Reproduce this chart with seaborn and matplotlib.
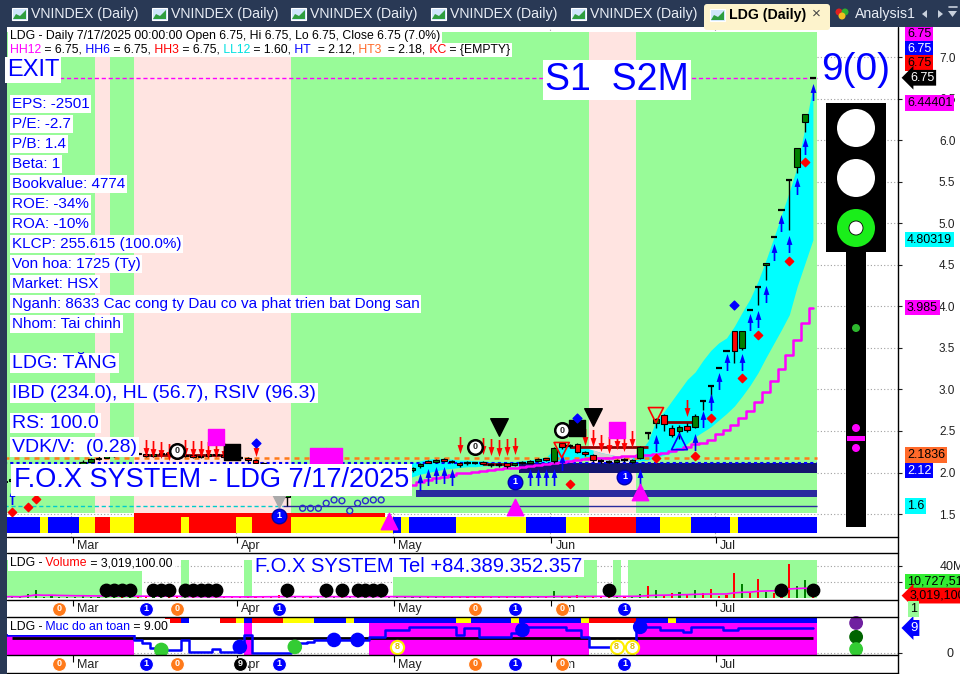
import matplotlib
matplotlib.use("Agg")
import numpy as np
import pandas as pd
import matplotlib.pyplot as plt
import matplotlib.patches as mpatches
import matplotlib.transforms as mtransforms
from matplotlib.ticker import FormatStrFormatter
import seaborn as sns

sns.set_theme(style="white")
plt.rcParams["font.family"] = ["Liberation Sans", "DejaVu Sans"]

W, H = 960, 674
BAR_PX, BAR0_PX = 7.85, 4.35   # width of one bar and x of bar 0, in pixels
LEFT, RIGHT = 7, 898

# ---------------- data ----------------
holidays = ["2025-04-07", "2025-04-30", "2025-05-01", "2025-05-02"]
dates = pd.bdate_range("2025-02-18", "2025-07-17")
dates = dates[~dates.isin(pd.to_datetime(holidays))]

opens = [
    1.88, 1.90, 1.92, 1.94, 1.95, 1.98, 2.00, 2.03, 2.05,
    2.08, 2.10, 2.13, 2.16, 2.18, 2.20, 2.22, 2.21, 2.23, 2.22, 2.20, 2.22, 2.24, 2.22, 2.20, 2.21, 2.19, 2.20, 2.22, 2.21, 2.19,
    2.17, 2.18, 2.15, 2.12, 1.96, 1.84, 1.70, 1.78, 1.80, 1.77, 1.75, 1.79, 1.81, 1.84, 1.83, 1.85, 1.87, 1.89, 1.90, 1.92,
    1.95, 1.98, 2.03, 2.08, 2.14, 2.13, 2.16, 2.13, 2.12, 2.12, 2.12, 2.13, 2.09, 2.09, 2.11, 2.09, 2.12, 2.12, 2.14, 2.17,
    2.14, 2.35, 2.32, 2.34, 2.25, 2.21, 2.14, 2.13, 2.13, 2.15, 2.13, 2.17, 2.47, 2.60, 2.69, 2.54, 2.50, 2.56, 2.55, 2.86, 3.04,
    3.26, 3.46, 3.70, 3.50, 3.96, 4.23, 4.50, 4.83, 5.16, 5.52, 5.68, 6.22, 6.75,
]
highs = [
    1.91, 1.93, 1.95, 1.97, 1.99, 2.02, 2.04, 2.07, 2.10,
    2.12, 2.15, 2.18, 2.20, 2.22, 2.25, 2.24, 2.25, 2.25, 2.24, 2.24, 2.26, 2.26, 2.24, 2.23, 2.23, 2.22, 2.24, 2.24, 2.23, 2.21,
    2.20, 2.19, 2.16, 2.13, 1.97, 1.85, 1.80, 1.82, 1.81, 1.78, 1.80, 1.83, 1.86, 1.86, 1.87, 1.89, 1.91, 1.92, 1.94, 1.97,
    1.99, 2.04, 2.07, 2.11, 2.15, 2.16, 2.17, 2.15, 2.13, 2.14, 2.13, 2.14, 2.11, 2.11, 2.12, 2.12, 2.14, 2.15, 2.18, 2.18,
    2.31, 2.36, 2.34, 2.36, 2.26, 2.22, 2.16, 2.15, 2.16, 2.17, 2.16, 2.32, 2.47, 2.65, 2.70, 2.57, 2.57, 2.60, 2.70, 2.86, 3.04,
    3.26, 3.46, 3.70, 3.70, 3.96, 4.23, 4.52, 4.83, 5.16, 5.52, 5.90, 6.31, 6.75,
]
lows = [
    1.87, 1.89, 1.91, 1.93, 1.94, 1.97, 1.99, 2.02, 2.04,
    2.06, 2.09, 2.12, 2.15, 2.17, 2.19, 2.20, 2.20, 2.21, 2.19, 2.19, 2.21, 2.21, 2.19, 2.19, 2.18, 2.18, 2.19, 2.20, 2.18, 2.16,
    2.15, 2.13, 2.10, 1.97, 1.84, 1.66, 1.60, 1.75, 1.74, 1.73, 1.74, 1.78, 1.80, 1.81, 1.82, 1.84, 1.86, 1.88, 1.89, 1.91,
    1.93, 1.97, 2.01, 2.06, 2.11, 2.12, 2.13, 2.11, 2.07, 2.09, 2.10, 2.09, 2.07, 2.07, 2.05, 2.08, 2.10, 2.11, 2.13, 2.14,
    2.12, 2.28, 2.29, 2.24, 2.20, 2.13, 2.12, 2.11, 2.12, 2.13, 2.12, 2.16, 2.40, 2.54, 2.50, 2.43, 2.40, 2.49, 2.54, 2.75, 2.90,
    3.26, 3.46, 3.32, 3.48, 3.96, 4.02, 4.32, 4.83, 5.16, 4.92, 5.60, 6.10, 6.75,
]
closes = [
    1.90, 1.92, 1.94, 1.95, 1.98, 2.00, 2.03, 2.05, 2.08,
    2.10, 2.13, 2.16, 2.18, 2.20, 2.22, 2.21, 2.23, 2.22, 2.20, 2.22, 2.24, 2.22, 2.20, 2.21, 2.19, 2.20, 2.22, 2.21, 2.19, 2.17,
    2.17, 2.15, 2.12, 1.98, 1.85, 1.72, 1.78, 1.80, 1.76, 1.75, 1.79, 1.81, 1.84, 1.83, 1.85, 1.87, 1.89, 1.90, 1.92, 1.95,
    1.98, 2.02, 2.05, 2.10, 2.12, 2.15, 2.14, 2.13, 2.09, 2.12, 2.12, 2.10, 2.09, 2.09, 2.08, 2.11, 2.12, 2.14, 2.16, 2.15,
    2.30, 2.31, 2.32, 2.25, 2.22, 2.15, 2.14, 2.13, 2.15, 2.15, 2.15, 2.31, 2.47, 2.64, 2.58, 2.45, 2.55, 2.51, 2.68, 2.86, 3.04,
    3.26, 3.46, 3.46, 3.70, 3.96, 4.23, 4.52, 4.83, 5.16, 5.52, 5.90, 6.31, 6.75,
]
volume_m = [
    1.5, 2.0, 1.2, 5.0, 9.5, 1.4, 4.0, 1.0, 1.6,
    1.2, 2.5, 1.0, 1.5, 2.0, 1.1, 1.8, 1.3, 1.0, 2.2, 1.4, 1.2, 1.6, 1.0, 1.9, 1.3, 1.1, 1.5, 1.2, 1.0, 1.4,
    1.3, 1.8, 2.4, 3.0, 2.8, 3.5, 2.1, 1.6, 1.2, 1.0, 1.4, 1.1, 1.3, 1.0, 1.2, 1.5, 1.1, 1.3, 1.6, 2.0,
    2.2, 2.5, 1.8, 2.0, 1.6, 1.9, 1.4, 1.2, 1.5, 1.3, 1.1, 1.4, 1.2, 1.0, 1.3, 1.5, 1.2, 1.6, 1.8, 1.4,
    8.3, 3.0, 2.0, 3.5, 2.5, 3.0, 1.5, 1.2, 1.6, 1.3, 2.0, 4.5, 14.6, 10.0, 4.0, 6.0, 7.0, 5.0, 10.0, 6.0, 11.0,
    3.0, 3.5, 31.0, 17.0, 6.0, 24.0, 8.0, 6.0, 7.0, 43.0, 15.0, 22.0, 3.0,
]
safety = (
    [6.5] * 17 + [4.7, 3.6, 1.8] + [1.1] * 3 + [4.7] + [0.5] * 3
    + [1.4, 0.5, 0.5, 2.3, 6.5] + [0.1] * 5 + [2.3, 3.6, 4.1] + [4.7] * 7 + [5.9] * 2
    + [8.3] * 3 + [9.2] * 6 + [6.5] + [9.0] * 2 + [5.9] * 4 + [7.2] + [9.2] * 6 + [8.3] * 2
    + [5.9] + [2.3] * 6 + [9.2] * 3 + [8.3] * 3 + [7.6] + [9.2] * 4 + [8.3] * 2 + [9.0] * 10
)

# envelope and trailing stop, bars 50..103
env_start = 50
env_upper = [2.02, 2.08, 2.12, 2.14, 2.16, 2.17, 2.17, 2.16, 2.15, 2.15,
             2.14, 2.14, 2.13, 2.13, 2.13, 2.13, 2.14, 2.15, 2.17, 2.18,
             2.28, 2.32, 2.33, 2.32, 2.30, 2.27, 2.24, 2.22, 2.20, 2.19,
             2.19, 2.25, 2.38, 2.62, 2.73, 2.86, 2.99, 3.12, 3.21, 3.35,
             3.47, 3.56, 3.62, 3.76, 3.93, 4.09, 4.30, 4.55, 4.82, 5.10,
             5.38, 5.68, 6.16, 6.64]
env_lower = [1.90, 1.92, 1.95, 1.98, 2.00, 2.02, 2.04, 2.05, 2.06, 2.07,
             2.07, 2.08, 2.08, 2.08, 2.08, 2.08, 2.09, 2.09, 2.10, 2.11,
             2.12, 2.14, 2.15, 2.16, 2.16, 2.16, 2.15, 2.15, 2.14, 2.14,
             2.14, 2.14, 2.15, 2.18, 2.21, 2.24, 2.27, 2.35, 2.43, 2.49,
             2.55, 2.63, 2.71, 2.80, 2.92, 3.05, 3.20, 3.38, 3.55, 3.72,
             3.90, 4.24, 4.52, 4.80]
stop_line = [1.80, 1.82, 1.85, 1.88, 1.91, 1.93, 1.95, 1.97, 1.99, 2.00,
             2.01, 2.02, 2.03, 2.04, 2.05, 2.06, 2.07, 2.08, 2.09, 2.10,
             2.11, 2.13, 2.14, 2.15, 2.16, 2.17, 2.18, 2.18, 2.19, 2.20,
             2.20, 2.21, 2.21, 2.22, 2.23, 2.26, 2.28, 2.31, 2.34, 2.36,
             2.39, 2.46, 2.51, 2.57, 2.66, 2.74, 2.85, 2.97, 3.10, 3.25,
             3.41, 3.59, 3.80, 3.985]

# background state per bar (run lengths)
band_runs = [("g", 12), ("p", 2), ("g", 3), ("p", 20), ("g", 38), ("p", 6), ("g", 23)]
strip_runs = [("b", 5), ("y", 1), ("b", 4), ("y", 2), ("r", 2), ("y", 3), ("r", 6), ("y", 1),
              ("r", 6), ("y", 2), ("r", 5), ("y", 13), ("b", 1), ("y", 1), ("b", 6), ("y", 9),
              ("b", 5), ("y", 3), ("r", 6), ("b", 3), ("y", 4), ("b", 5), ("y", 1), ("b", 10)]
red_top = (17, 48)
safe_strip_runs = [("n", 21), ("r", 2), ("b", 1), ("n", 4), ("r", 2), ("y", 1), ("b", 1), ("r", 4),
                   ("y", 4), ("b", 4), ("y", 1), ("b", 13), ("y", 2), ("b", 5), ("y", 1), ("b", 8),
                   ("y", 1), ("r", 6), ("b", 4), ("y", 1), ("b", 18)]
safe_zones = [(0, 16, 6.8), (31, 31, 12.95), (47, 74, 10.8), (81, 103, 10.8)]
vol_green = [(0, 17), (23, 23), (31, 31), (50, 75), (78, 78), (80, 103)]

# levels
hh12, ht3, ht, ll12 = 6.75, 2.18, 2.12, 1.60
zones = [(66, 103, 1.99, 2.11, "#15156e"), (53, 103, 1.70, 1.79, "#2a2a9e")]
box_lines = [(18, 29, 2.21), (61, 65, 2.10), (72, 82, 2.31), (84, 88, 2.61)]

# signals
buy_bars = [1, 53, 54, 55, 56, 57, 67, 68, 69, 70, 71, 81, 83, 88, 89, 90, 91, 92, 94, 95, 96, 97, 98, 99, 100, 101, 102, 103]
buy_lvls = [1.72, 1.89, 1.95, 1.97, 1.97, 1.95, 1.95, 1.95, 1.95, 1.95, 2.13, 1.95, 2.35, 2.37, 2.64, 2.85, 3.10, 3.33,
            3.33, 3.81, 3.85, 4.15, 4.65, 5.00, 4.75, 5.45, 5.93, 6.58]
sell_bars = [18, 19, 20, 21, 23, 24, 25, 26, 27, 28, 32, 58, 61, 62, 63, 64, 65, 74, 75, 76, 77, 78, 79, 80, 87]
sell_lvls = [2.30, 2.28, 2.27, 2.25, 2.30, 2.28, 2.28, 2.27, 2.28, 2.26, 2.30, 2.33, 2.32, 2.31, 2.30, 2.31, 2.32,
             2.43, 2.42, 2.36, 2.33, 2.38, 2.35, 2.40, 2.78]
black_tri = ([63, 75], [2.55, 2.67])
red_open_tri = ([71, 83], [2.27, 2.69])
blue_open_tri = ([86], [2.37])
gray_tri = ([35], [1.66])
black_sq = ([29, 73], [2.25, 2.54])
magenta_sq = ([27, 40, 42, 78], [2.43, 2.20, 2.20, 2.51])
red_dia = ([1, 3, 4, 72, 83, 88, 90, 94, 96, 100, 102], [1.52, 1.58, 1.68, 1.86, 2.17, 2.20, 2.66, 3.14, 3.65, 4.55, 5.74])
blue_dia = ([32, 73, 93], [2.35, 2.66, 4.02])
zero_rings = ([22, 60, 71], [2.26, 2.31, 2.51])
one_badges = ([35, 65, 79], [1.48, 1.89, 1.95])
magenta_up = ([49, 65, 81], [1.42, 1.58, 1.76])
trail_bars = [38, 39, 40, 41, 42, 43, 44, 45, 46, 47, 48]
trail_lvls = [1.57, 1.57, 1.57, 1.63, 1.67, 1.66, 1.54, 1.63, 1.66, 1.67, 1.67]

vol_dots = [13, 14, 15, 16, 19, 20, 21, 23, 24, 25, 26, 27, 36, 41, 43, 45, 46, 47, 48, 77, 99, 103]
safe_dots = ([20, 37, 30, 42, 45, 66, 81], [1.1, 2.2, 2.2, 4.7, 4.7, 8.3, 9.4],
             ["#33cc33", "#33cc33", "#0000ff", "#0000ff", "#0000ff", "#0000ff", "#0000ff"])
safe_eights = [50, 78, 80]
row_badges = [(7, "0", "#ff7a1a"), (18, "1", "#0000ff"), (22, "0", "#ff7a1a"), (35, "1", "#0000ff"),
              (60, "0", "#ff7a1a"), (65, "1", "#0000ff"), (71, "0", "#ff7a1a"), (79, "1", "#0000ff")]

price_tags = [("6.75", 6.75, "#ff00ff", "black", 44, False), ("6.75", 6.75, "#0000ff", "white", 29, False),
              ("6.75", 6.75, "#ff0000", "black", 15, False), ("6.75", 6.75, "black", "white", 0, True),
              ("6.44401", 6.44401, "#ff00ff", "black", 0, False), ("4.80319", 4.80319, "#00ffff", "black", 0, False),
              ("3.985", 3.985, "#ff00ff", "black", 0, False), ("2.1836", 2.1836, "#ff6a2a", "black", 2, False),
              ("2.12", 2.12, "#0000ff", "white", -8, False), ("1.6", 1.6, "#00ffff", "black", 0, False)]

info_lines = ["EPS: -2501", "P/E: -2.7", "P/B: 1.4", "Beta: 1", "Bookvalue: 4774", "ROE: -34%", "ROA: -10%",
              "KLCP: 255.615 (100.0%)", "Von hoa: 1725 (Ty)", "Market: HSX",
              "Nganh: 8633 Cac cong ty Dau co va phat trien bat Dong san", "Nhom: Tai chinh"]
signal_lines = ["LDG: TĂNG", "IBD (234.0), HL (56.7), RSIV (96.3)", "RS: 100.0", "VDK/V:  (0.28)"]

# ---------------- figure ----------------
COL = {"g": "#98fb98", "p": "#ffe4e1", "b": "#0000ff", "y": "#ffff00", "r": "#ff0000", "n": None}
MAG = "#ff00ff"
bars = np.arange(len(dates))
o, h, l, c = (np.array(v) for v in (opens, highs, lows, closes))
XLIM = ((LEFT - BAR0_PX) / BAR_PX, (RIGHT - BAR0_PX) / BAR_PX)

fig = plt.figure(figsize=(W / 100, H / 100), dpi=100)
fig.patch.set_facecolor("white")


def panel(y0, y1):
    a = fig.add_axes([LEFT / W, 1 - y1 / H, (RIGHT - LEFT) / W, (y1 - y0) / H])
    for s in a.spines.values():
        s.set_visible(False)
    a.set_xticks([])
    a.set_yticks([])
    a.set_facecolor("none")
    return a


def spans(runs):
    out, start = [], 0
    for key, n in runs:
        out.append((key, start, start + n - 1))
        start += n
    return out


ax = panel(28, 537)
axv = panel(553, 600)
axs = panel(617, 655)
labs = [panel(537, 553), panel(600, 617), panel(655, 673)]
PY0, PY1 = 1.224, 7.349


def pfrac(py):
    return (537 - py) / (537 - 28)


# price panel background
month_starts = [i for i in range(1, len(dates)) if dates[i].month != dates[i - 1].month]
for t in np.arange(1.5, 7.01, 0.5):
    ax.axhline(t, color="#a0a0a0", ls=(0, (1, 2)), lw=0.8, zorder=0.5)
for m in month_starts:
    ax.axvline(m - 0.5, color="#a0a0a0", ls=(0, (1, 2)), lw=0.8, zorder=0.5)
for key, s, e in spans(band_runs):
    ax.axvspan(s - 0.5, e + 0.5, ymin=pfrac(513), ymax=pfrac(32), color=COL[key], lw=0, zorder=1)
for key, s, e in spans(strip_runs):
    ax.axvspan(s - 0.5, e + 0.5, ymin=pfrac(533), ymax=pfrac(517), color=COL[key], lw=0, zorder=1)
ax.axvspan(red_top[0] - 0.5, red_top[1] + 0.5, ymin=pfrac(517), ymax=pfrac(513), color="#ff0000", lw=0, zorder=1)

# envelope
ex = np.arange(env_start, env_start + len(env_upper))
ax.fill_between(ex, env_lower, env_upper, color="#00ffff", lw=0, zorder=2)
pink = np.array([k == "p" for k, s, e in spans(band_runs) for _ in range(s, e + 1)])[ex]
ax.fill_between(ex, env_lower, env_upper, where=pink, color="#d0d0d0", lw=0, zorder=2.1)
for s, e, lo, hi, col in zones:
    ax.fill_between([s - 0.5, e + 0.5], lo, hi, color=col, lw=0, zorder=2.5)

# horizontal levels
ax.hlines(hh12, 0, 103.5, color=MAG, ls=(0, (3, 2)), lw=1, zorder=3)
ax.hlines(ht3, 0, 103.5, color="#ff7a1a", ls=(0, (2, 2)), lw=1.8, zorder=3)
ax.hlines(ht, 0, 103.5, color="#0000ff", ls=(0, (1.5, 1.5)), lw=1.5, zorder=3)
ax.hlines(ll12, 0, 35.5, color="#00cccc", ls=(0, (3, 2)), lw=1, zorder=3)
ax.hlines(ll12, 35.5, 103.5, color="#2a2a9e", lw=1, zorder=3)
for s, e, lv in box_lines:
    ax.hlines(lv, s, e, color="#8b0000", lw=2, zorder=3)
sns.lineplot(x=ex, y=stop_line, ax=ax, color=MAG, lw=1.8, drawstyle="steps-mid", zorder=3.2)

# candles
doji = np.isclose(o, c)
body_col = np.where(c > o, "#008000", "#ff0000")
ax.vlines(bars, l, h, color="black", lw=1, zorder=4)
nd = ~doji
ax.bar(bars[nd], np.abs(c - o)[nd], bottom=np.minimum(o, c)[nd], width=0.72, color=body_col[nd],
       edgecolor="black", lw=0.8, zorder=4.1)
ax.hlines(c[doji], bars[doji] - 0.4, bars[doji] + 0.4, color="black", lw=1.6, zorder=4.1)

# signal markers
down_arrow = [(-0.1, 1), (0.1, 1), (0.1, 0.05), (0.34, 0.05), (0, -1), (-0.34, 0.05), (-0.1, 0.05)]
up_arrow = [(x, -y) for x, y in down_arrow]
ax.scatter(sell_bars, sell_lvls, marker=down_arrow, s=150, color="#ff0000", lw=0, zorder=5)
ax.scatter(buy_bars, buy_lvls, marker=up_arrow, s=150, color="#0000ff", lw=0, zorder=5)
ax.scatter(*black_tri, marker="v", s=160, color="black", zorder=5)
ax.scatter(*red_open_tri, marker="v", s=120, facecolor="none", edgecolor="#ff0000", lw=1.2, zorder=5)
ax.scatter(*blue_open_tri, marker="^", s=130, facecolor="none", edgecolor="#0000ff", lw=1.2, zorder=5)
ax.scatter(*gray_tri, marker="v", s=90, color="#aaaaaa", zorder=5)
ax.scatter(*black_sq, marker="s", s=120, color="black", zorder=5)
ax.scatter(*magenta_sq, marker="s", s=120, color=MAG, zorder=5)
ax.scatter(*red_dia, marker="D", s=18, color="#ff0000", zorder=5)
ax.scatter(*blue_dia, marker="D", s=20, color="#0000ff", zorder=5)
ax.scatter(*magenta_up, marker="^", s=140, color=MAG, zorder=5)
ax.scatter(trail_bars, trail_lvls, marker="o", s=18, facecolor="none", edgecolor="#2a2acc", lw=1, zorder=5)
ax.scatter(*zero_rings, marker="o", s=110, facecolor="white", edgecolor="black", lw=1.8, zorder=5.5)
for b, v in zip(*zero_rings):
    ax.text(b, v, "0", ha="center", va="center", fontsize=6.5, fontweight="bold", zorder=5.6)
ax.scatter(*one_badges, marker="o", s=110, color="#0000ff", edgecolor="#0000aa", zorder=5.5)
for b, v in zip(*one_badges):
    ax.text(b, v, "1", ha="center", va="center", fontsize=6.5, fontweight="bold", color="white", zorder=5.6)

ax.set_ylim(PY0, PY1)
ax.set_yticks(np.arange(1.5, 7.01, 0.5))
ax.yaxis.set_major_formatter(FormatStrFormatter("%.1f"))
ax.tick_params(axis="y", left=False, labelleft=False, right=True, labelright=True, length=3, width=0.8,
               pad=26.5, labelsize=8.5, colors="#202020", direction="out")
ax.set_xlabel("")
ax.set_ylabel("")


def tag(axis, val, text, fc, tc, dy=0, arrow=False, size=9):
    tr = mtransforms.offset_copy(axis.get_yaxis_transform(), fig=fig, x=12 if arrow else 9, y=dy, units="dots")
    style = "larrow,pad=0.15" if arrow else "square,pad=0.15"
    axis.text(1, val, text, transform=tr, ha="left", va="center", fontsize=size, color=tc, zorder=30,
              clip_on=False, bbox=dict(boxstyle=style, fc=fc, ec="none"))


for text, val, fc, tc, dy, arrow in price_tags:
    tag(ax, val, text, fc, tc, dy, arrow)

# volume panel
for s, e in vol_green:
    axv.axvspan(s - 0.5, e + 0.5, ymin=0.043, ymax=0.851, color=COL["g"], lw=0, zorder=1)
for t in (20, 40):
    axv.axhline(t, color="#a0a0a0", ls=(0, (1, 2)), lw=0.8, zorder=0.5)
vol_col = np.where(c > o, "#008000", "#ff0000")
axv.bar(bars, volume_m, width=0.28, color=vol_col, lw=0, zorder=3)
vol_ma = pd.Series(volume_m).rolling(20, min_periods=1).mean()
sns.lineplot(x=bars, y=vol_ma.values, ax=axv, color=MAG, lw=1.2, zorder=3.5)
axv.scatter(vol_dots, [9.5] * len(vol_dots), s=80, color="black", zorder=4)
axv.set_ylim(-2.5, 56.25)
axv.set_yticks([20, 40])
axv.set_yticklabels(["20M", "40M"])
axv.tick_params(axis="y", left=False, labelleft=False, right=True, labelright=True, length=3, width=0.8,
                pad=27, labelsize=9, colors="#202020", direction="out")
axv.set_xlabel("")
axv.set_ylabel("")
tag(axv, vol_ma.values[-1], "10,727,512", "#33ee33", "black", dy=7)
tag(axv, volume_m[-1], "3,019,100", "#ff0000", "black", arrow=True)

# safety panel
for s, e, top in safe_zones:
    axs.fill_between([s - 0.5, e + 0.5], -0.72, top, color=MAG, lw=0, zorder=1)
for key, s, e in spans(safe_strip_runs):
    if COL[key]:
        axs.fill_between([s - 0.5, e + 0.5], 10.8, 12.95, color=COL[key], lw=0, zorder=1.2)
axs.axhline(0, color="#a0a0a0", ls=(0, (1, 2)), lw=0.8, zorder=0.5)
axs.hlines(5.5, 1, 103, color="black", lw=2, zorder=2)
sns.lineplot(x=bars, y=safety, ax=axs, color="#0000ff", lw=1.8, drawstyle="steps-mid", zorder=3)
axs.scatter(safe_dots[0], safe_dots[1], s=90, c=safe_dots[2], zorder=4)
axs.scatter(safe_eights, [2.2] * len(safe_eights), s=90, facecolor="white", edgecolor="#ffee00", lw=1.5, zorder=4)
for b in safe_eights:
    axs.text(b, 2.2, "8", ha="center", va="center", fontsize=6.5, fontweight="bold", color="#e0c000", zorder=4.5)
side = axs.get_yaxis_transform()
axs.scatter([0.953] * 3, [10.8, 5.8, 1.4], transform=side, s=80,
            c=["#7020a0", "#006400", "#33cc33"], clip_on=False, zorder=4)
axs.set_ylim(-0.72, 12.95)
axs.set_yticks([0])
axs.tick_params(axis="y", left=False, labelleft=False, right=True, labelright=True, length=3, width=0.8,
                pad=32, labelsize=9, colors="#202020", direction="out")
axs.set_xlabel("")
axs.set_ylabel("")
tag(axs, 9, "9", "#0000ff", "white", arrow=True, size=9.5)

# x label rows
for i, la in enumerate(labs):
    la.set_ylim(0, 1)
    for m in month_starts:
        la.vlines(m - 0.3, 0.62, 1, color="black", lw=0.8)
        la.text(m + 0.2, 0.45, dates[m].strftime("%b"), ha="left", va="center", fontsize=9, color="#202020")
    if i > 0:
        badges = row_badges + ([(30, "9", "black")] if i == 2 else [])
        for b, s, col in badges:
            la.scatter([b], [0.5], s=100, color=col, edgecolor="white", lw=0.8, zorder=3, clip_on=False)
            la.text(b, 0.5, s, ha="center", va="center", fontsize=6.5, fontweight="bold", color="white", zorder=4)

for a in [ax, axv, axs] + labs:
    a.set_xlim(*XLIM)

# ---------------- overlay (pixel coordinates) ----------------
ov = fig.add_axes([0, 0, 1, 1], zorder=10)
ov.set_xlim(0, W)
ov.set_ylim(H, 0)
ov.axis("off")
ov.patch.set_alpha(0)
renderer = fig.canvas.get_renderer()
NAVY = "#293955"

ov.add_patch(mpatches.Rectangle((0, 0), W, 27, fc=NAVY, ec="none", zorder=1))
ov.add_patch(mpatches.Rectangle((0, 27), LEFT, H - 27, fc=NAVY, ec="none", zorder=1))
for y in (537, 553, 600, 617, 655, 673):
    ov.plot([LEFT, RIGHT], [y, y], color="black", lw=1, zorder=2)
ov.plot([RIGHT, RIGHT], [27, H], color="black", lw=1, zorder=2)


def icon(x, y):
    ov.add_patch(mpatches.Rectangle((x, y - 6), 15, 12, fc="#cfe6fb", ec="white", lw=0.8, zorder=3))
    ov.add_patch(mpatches.Polygon([(x + 1, y + 5), (x + 4, y), (x + 8, y + 2), (x + 14, y - 4), (x + 14, y + 5)],
                                  fc="#2e9e3e", ec="none", zorder=3.1))


for tx in (12, 152, 291, 431, 571):
    icon(tx, 14)
    ov.text(tx + 19, 14, "VNINDEX (Daily)", color="#e8edf5", fontsize=10.2, va="center", zorder=3)
ov.add_patch(mpatches.FancyBboxPatch((704, 4), 126, 26, boxstyle="round,pad=0,rounding_size=3",
                                     fc="#fdf3cc", ec="none", zorder=2))
icon(710, 15)
ov.text(729, 15, "LDG (Daily)", color="black", fontsize=10.2, fontweight="bold", va="center", zorder=3)
ov.text(812, 14, "×", color="#444444", fontsize=11, va="center", zorder=3)
for dx, col in ((0, "#e02020"), (6, "#30b030"), (3, "#f0c020")):
    ov.add_patch(mpatches.Circle((839 + dx, 12 + (4 if dx == 3 else 0)), 3.5, fc=col, ec="none", zorder=3))
ov.text(855, 14, "Analysis1", color="#e8edf5", fontsize=10.2, va="center", zorder=3)
for x0, tri in ((927, [(0, -4), (0, 4), (-5, 0)]), (938, [(0, -4), (0, 4), (5, 0)]),
                (948, [(0, -3), (9, -3), (4.5, 3)])):
    ov.add_patch(mpatches.Polygon([(x0 + a, 14 + b) for a, b in tri], fc="#c8d0dc", ec="none", zorder=3))
ov.plot([949, 957], [7, 7], color="#c8d0dc", lw=1.2, zorder=3)


def text_run(x, y, parts, size, bg="white", pad_h=None):
    x0 = x
    for s, col in parts:
        t = ov.text(x, y, s, color=col, fontsize=size, ha="left", va="center", zorder=12)
        x += t.get_window_extent(renderer).width
    if bg:
        hh = pad_h or size * 1.8
        ov.add_patch(mpatches.Rectangle((x0 - 2, y - hh / 2), x - x0 + 4, hh, fc=bg, ec="none", zorder=11))


K = "black"
text_run(10, 36, [("LDG - Daily 7/17/2025 00:00:00 Open 6.75, Hi 6.75, Lo 6.75, Close 6.75 (7.0%)", K)], 8.8, pad_h=14)
text_run(10, 50, [("HH12", MAG), (" = 6.75,", K), (" HH6", "#0000ff"), (" = 6.75,", K), (" HH3", "#ff0000"),
                  (" = 6.75,", K), (" LL12", "#00e0e0"), (" = 1.60,", K), (" HT", "#0000ff"), ("  = 2.12,", K),
                  (" HT3", "#ff6a2a"), ("  = 2.18,", K), (" KC", "#ff0000"), (" = {EMPTY}", K)], 8.8, pad_h=14)
text_run(10, 563, [("LDG -", K), (" Volume", "#ff0000"), (" = 3,019,100.00", K)], 8.8, pad_h=16)
text_run(10, 627, [("LDG -", K), (" Muc do an toan", "#0000ff"), (" = 9.00", K)], 8.8, pad_h=16)

BLUE = "#0000ff"
wbox = dict(fc="white", ec="none", pad=1.2)
ov.text(7, 70, "EXIT", color=BLUE, fontsize=17, va="center", ha="left", bbox=wbox, zorder=12)
for i, line in enumerate(info_lines):
    ov.text(12, 104 + 20 * i, line, color=BLUE, fontsize=11, va="center", ha="left", bbox=wbox, zorder=12)
for y, line in zip((363, 393, 423, 447), signal_lines):
    ov.text(12, y, line, color=BLUE, fontsize=14, va="center", ha="left", bbox=wbox, zorder=12)
ov.text(14, 480, "F.O.X SYSTEM - LDG 7/17/2025", color=BLUE, fontsize=19.5, va="center", ha="left",
        bbox=dict(fc="white", ec="none", pad=2), zorder=12)
ov.text(545, 80, "S1  S2M", color=BLUE, fontsize=27, va="center", ha="left",
        bbox=dict(fc="white", ec="none", pad=1.5), zorder=12)
ov.text(821, 70, "9(0)", color=BLUE, fontsize=28, va="center", ha="left", zorder=12)
ov.text(255, 566, "F.O.X SYSTEM Tel +84.389.352.357", color=BLUE, fontsize=14.5, va="center", ha="left",
        bbox=wbox, zorder=12)
ov.text(910, 609, "1", color="black", fontsize=9, va="center", ha="left",
        bbox=dict(fc="#98fb98", ec="none", pad=1.5), zorder=12)

# traffic light
ov.add_patch(mpatches.Rectangle((826, 103), 60, 149, fc="black", ec="none", zorder=5))
ov.add_patch(mpatches.Rectangle((846, 252), 20, 275, fc="black", ec="none", zorder=5))
ov.add_patch(mpatches.Circle((856, 128), 19, fc="white", ec="none", zorder=6))
ov.add_patch(mpatches.Circle((856, 178), 19, fc="white", ec="none", zorder=6))
ov.add_patch(mpatches.Circle((856, 228), 19, fc="#1aee1a", ec="none", zorder=6))
ov.add_patch(mpatches.Circle((856, 228), 7, fc="white", ec="black", lw=0.6, zorder=6.5))
ov.add_patch(mpatches.Circle((856, 328), 4, fc="#2eb82e", ec="none", zorder=6))
ov.add_patch(mpatches.Circle((856, 428), 4, fc=MAG, ec="none", zorder=6))
ov.add_patch(mpatches.Circle((856, 448), 4, fc=MAG, ec="none", zorder=6))
ov.add_patch(mpatches.Rectangle((847, 436), 18, 5, fc=MAG, ec="none", zorder=6))

fig.savefig("out.png", dpi=100)
